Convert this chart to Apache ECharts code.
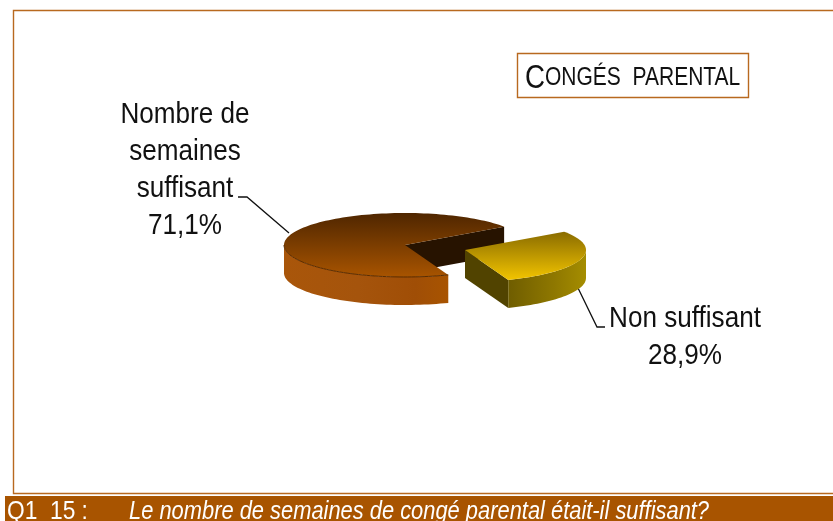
<!DOCTYPE html>
<html>
<head>
<meta charset="utf-8">
<script src="https://cdn.jsdelivr.net/npm/echarts@6/dist/echarts.min.js"></script>
<style>
html, body { margin: 0; padding: 0; background: #fff; }
#main { width: 833px; height: 521px; overflow: hidden; }
</style>
</head>
<body>
<div id="main"></div>
<script>
var categories = ['Nombre de\nsemaines\nsuffisant', 'Non suffisant'];
var values = [71.1, 28.9];
var chartTitle = ['C', 'ONGÉS  PARENTAL'];
var questionCode = 'Q1  15 :';
var questionText = 'Le nombre de semaines de congé parental était-il suffisant?';

var brown = '#a85400';
var lineColor = '#b8691f';
var sans = '"Liberation Sans", sans-serif';
var squeeze = 0.87; // no narrow font installed, so the text is squeezed

// flattened pie: centre, radii, thickness, start angle (degrees, counter-clockwise)
var cx = 405, cy = 245, rx = 121, ry = 32, depth = 28;
var startAngle = 35;
var explode = [[0, 0], [60, 5]];

var total = values.reduce(function (a, b) { return a + b; }, 0);

function pointAt(deg, ox, oy, dy) {
    var a = deg * Math.PI / 180;
    return [cx + ox + rx * Math.cos(a), cy + oy + dy - ry * Math.sin(a)];
}

function arcPoints(from, to, ox, oy, dy) {
    var pts = [];
    var n = Math.max(2, Math.ceil(Math.abs(to - from) / 2));
    for (var i = 0; i <= n; i++) {
        pts.push(pointAt(from + (to - from) * i / n, ox, oy, dy));
    }
    return pts;
}

function poly(points, fill) {
    return { type: 'polygon', shape: { points: points }, style: { fill: fill } };
}

function vertical(top, bottom) {
    return new echarts.graphic.LinearGradient(0, 0, 0, 1, [
        { offset: 0, color: top }, { offset: 1, color: bottom }
    ]);
}

function horizontal(stops) {
    return new echarts.graphic.LinearGradient(0, 0, 1, 0, stops);
}

// each slice is drawn from its share of the total
function renderSlice(params, api) {
    var idx = params.dataIndex;
    var before = 0;
    for (var i = 0; i < idx; i++) before += values[i];
    var from = startAngle + before / total * 360;
    var to = from + api.value(0) / total * 360;
    var ox = explode[idx][0], oy = explode[idx][1];
    var apex = [cx + ox, cy + oy];
    var apexLow = [apex[0], apex[1] + depth];
    var top = [apex].concat(arcPoints(from, to, ox, oy, 0));
    var children = [];

    if (idx === 0) {
        // inner wall seen through the gap, then the front rim
        var e = pointAt(from, ox, oy, 0);
        children.push(poly([apex, e, [e[0], e[1] + depth], apexLow], '#271300'));
        var rimTop = arcPoints(180, to, ox, oy, 0);
        var rimLow = arcPoints(to, 180, ox, oy, depth);
        children.push(poly(rimTop.concat(rimLow), horizontal([
            { offset: 0, color: '#a9560a' }, { offset: 0.45, color: '#a5540c' },
            { offset: 0.8, color: '#a04e06' }, { offset: 1, color: '#a85400' }
        ])));
        children.push(poly(top, vertical('#4f2600', '#a85400')));
        children.push({
            type: 'polyline',
            shape: { points: arcPoints(180, to, ox, oy, 0) },
            style: { fill: null, stroke: '#5a2c00', lineWidth: 1 }
        });
    } else {
        // cut wall on the left, then the rim up to the rightmost point
        var s = pointAt(from, ox, oy, 0);
        children.push(poly([apex, s, [s[0], s[1] + depth], apexLow], '#514300'));
        var rimA = arcPoints(from, 360, ox, oy, 0);
        var rimB = arcPoints(360, from, ox, oy, depth);
        children.push(poly(rimA.concat(rimB), horizontal([
            { offset: 0, color: '#6f5d00' }, { offset: 0.6, color: '#8f7800' }, { offset: 1, color: '#a58d00' }
        ])));
        children.push(poly(top, vertical('#8a6c00', '#f2c400')));
    }
    return { type: 'group', children: children };
}

function label(name, value, x, y) {
    return {
        type: 'text',
        x: x, y: y,
        scaleX: squeeze,
        style: {
            text: name + '\n' + String(value).replace('.', ',') + '%',
            fontFamily: sans,
            fontSize: 30,
            fill: '#111',
            lineHeight: 37,
            align: 'center',
            verticalAlign: 'top'
        }
    };
}

var chartDom = document.getElementById('main');
var myChart = echarts.init(chartDom);

var option = {
    animation: false,
    backgroundColor: '#fff',
    graphic: [
        { type: 'rect', shape: { x: 13.5, y: 10.5, width: 830, height: 483 }, style: { fill: '#fff', stroke: lineColor, lineWidth: 1.4 }, z: -2 },
        { type: 'rect', shape: { x: 5, y: 496, width: 828, height: 25 }, style: { fill: brown }, z: -2 },
        { type: 'text', x: 7, y: 500, scaleX: 0.91, style: { text: questionCode, fontFamily: sans, fontSize: 25, fill: '#fff' } },
        { type: 'text', x: 129, y: 500, scaleX: 0.875, style: { text: questionText, fontFamily: sans, fontStyle: 'italic', fontSize: 25, fill: '#fff' } },
        { type: 'rect', shape: { x: 517.5, y: 53.5, width: 231, height: 44 }, style: { fill: '#fff', stroke: lineColor, lineWidth: 1.4 } },
        {
            type: 'text', x: 525, y: 62,
            scaleX: 0.84,
            style: {
                text: '{a|' + chartTitle[0] + '}{b|' + chartTitle[1] + '}',
                rich: {
                    a: { fontFamily: sans, fontSize: 33, fill: '#111' },
                    b: { fontFamily: sans, fontSize: 25, fill: '#111' }
                }
            }
        },
        label(categories[0], values[0], 185, 96),
        label(categories[1], values[1], 685, 300),
        { type: 'polyline', shape: { points: [[238, 197], [247, 197], [289, 233]] }, style: { fill: null, stroke: '#111', lineWidth: 1.3 } },
        { type: 'polyline', shape: { points: [[578, 288], [597, 327], [605, 327]] }, style: { fill: null, stroke: '#111', lineWidth: 1.3 } }
    ],
    series: [{
        type: 'custom',
        coordinateSystem: 'none',
        silent: true,
        renderItem: renderSlice,
        data: values.map(function (v) { return [v]; })
    }]
};

myChart.setOption(option);
</script>
</body>
</html>
